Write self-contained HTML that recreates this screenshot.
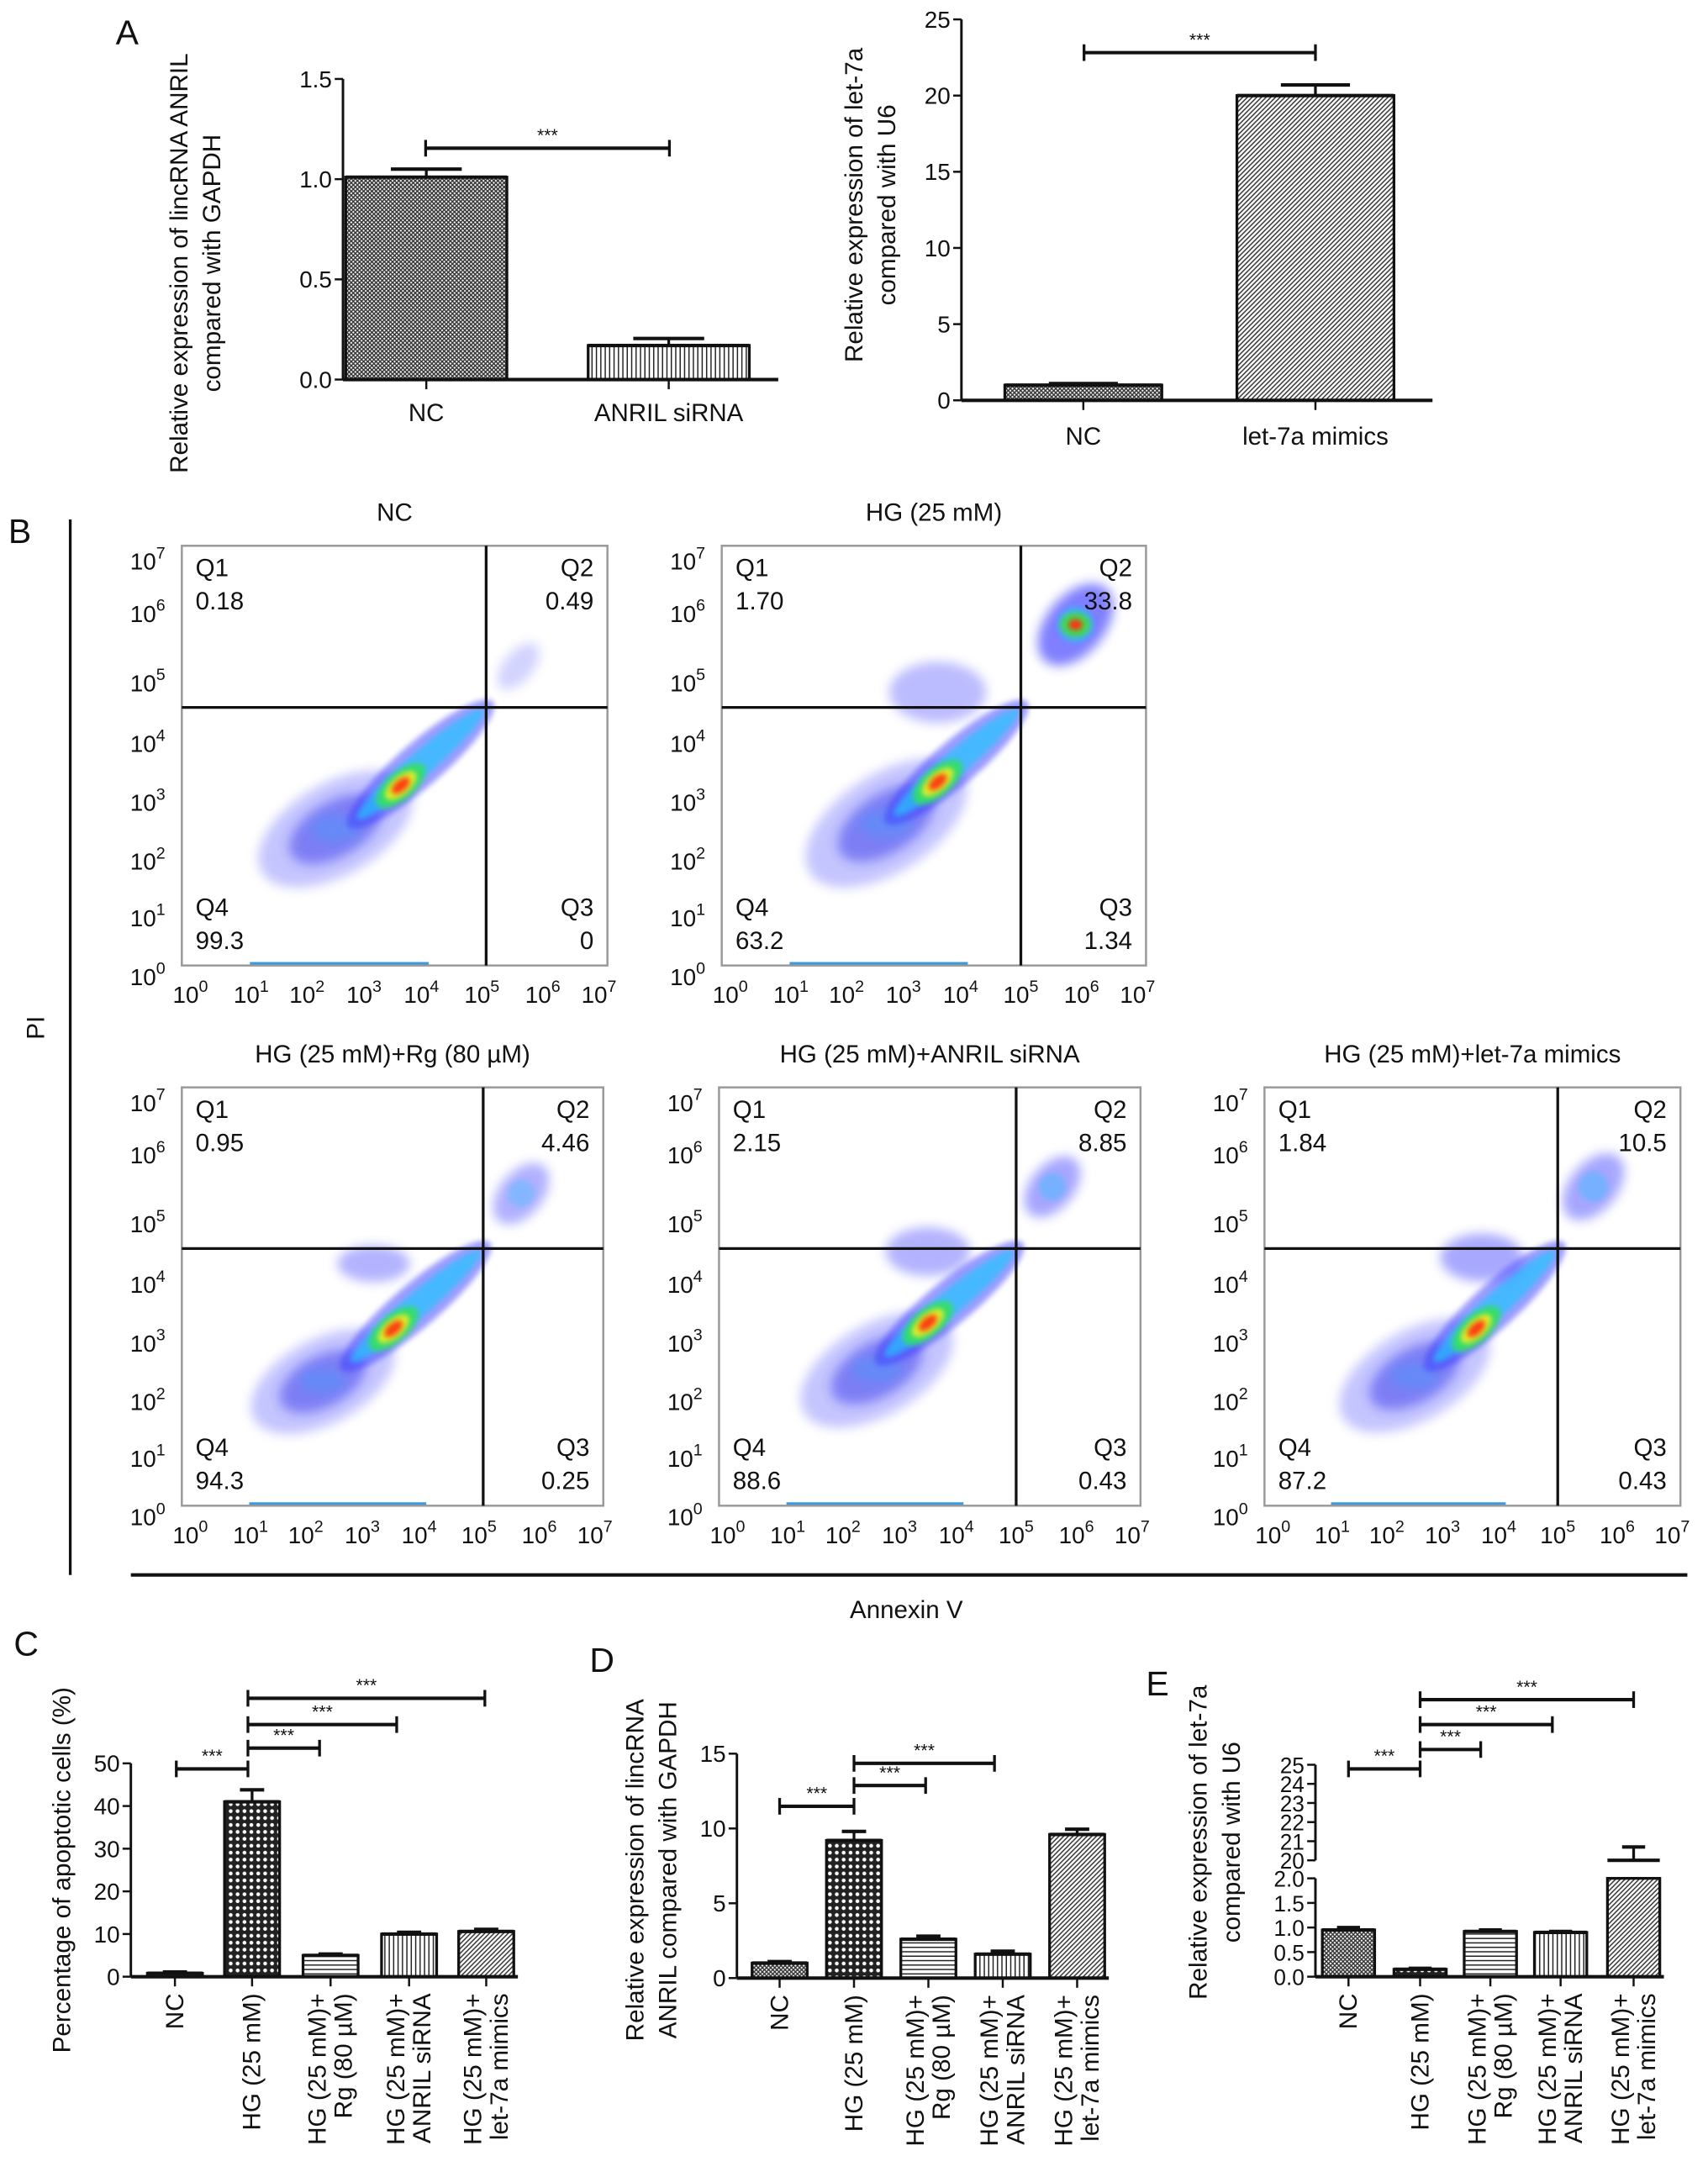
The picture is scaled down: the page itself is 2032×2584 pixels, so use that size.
<!DOCTYPE html>
<html><head><meta charset="utf-8"><style>
html,body{margin:0;padding:0;background:#fff}
svg{display:block}
text{font-family:"Liberation Sans",Arial,sans-serif;fill:#111}
</style></head><body>
<svg id="fig" xmlns="http://www.w3.org/2000/svg" width="2032" height="2584" viewBox="0 0 1240 1568" preserveAspectRatio="none">
<defs>
<pattern id="pCross" width="3" height="3" patternUnits="userSpaceOnUse"><rect width="3" height="3" fill="#fff"/><path d="M0,0L3,3M3,0L0,3" stroke="#333" stroke-width="0.9"/></pattern>
<pattern id="pCheck" width="5" height="5" patternUnits="userSpaceOnUse"><rect width="5" height="5" fill="#222"/><circle cx="2.5" cy="2.5" r="1.4" fill="#fff"/></pattern>
<pattern id="pVert" width="3.2" height="4" patternUnits="userSpaceOnUse"><rect width="3.2" height="4" fill="#fff"/><path d="M1,0V4" stroke="#222" stroke-width="0.9"/></pattern>
<pattern id="pHorz" width="4" height="3.2" patternUnits="userSpaceOnUse"><rect width="4" height="3.2" fill="#fff"/><path d="M0,1H4" stroke="#222" stroke-width="0.9"/></pattern>
<pattern id="pDiag" width="3.4" height="3.4" patternUnits="userSpaceOnUse"><rect width="3.4" height="3.4" fill="#fff"/><path d="M0,3.4L3.4,0M-1,1L1,-1M2.4,4.4L4.4,2.4" stroke="#333" stroke-width="0.9"/></pattern>
<filter id="blur4" x="-50%" y="-50%" width="200%" height="200%"><feGaussianBlur stdDeviation="4"/></filter>
<filter id="blur2" x="-50%" y="-50%" width="200%" height="200%"><feGaussianBlur stdDeviation="2"/></filter>
</defs>
<g id="root"></g>
</svg>
<script>
// ---------- Panel A data ----------
const aLeftCats = ['NC','ANRIL siRNA'];
const aLeftVals = [1.01, 0.17];
const aLeftErr = [0.04, 0.035];
const aLeftTicks = [0.0, 0.5, 1.0, 1.5];
const aRightCats = ['NC','let-7a mimics'];
const aRightVals = [1.0, 20.0];
const aRightErr = [0.1, 0.7];
const aRightTicks = [0,5,10,15,20,25];
// ---------- Panel C/D/E data ----------
const groupCats = [['NC'],['HG (25 mM)'],['HG (25 mM)+','Rg (80 µM)'],['HG (25 mM)+','ANRIL siRNA'],['HG (25 mM)+','let-7a mimics']];
const cVals = [0.8, 41.0, 5.0, 10.0, 10.6];
const cErr = [0.3, 2.8, 0.3, 0.4, 0.5];
const cTicks = [0,10,20,30,40,50];
const dVals = [1.0, 9.2, 2.6, 1.6, 9.6];
const dErr = [0.1, 0.6, 0.2, 0.2, 0.35];
const dTicks = [0,5,10,15];
const eVals = [0.95, 0.15, 0.92, 0.9, 20.0];
const eErr = [0.05, 0.02, 0.03, 0.02, 0.7];
const eTicksLow = [0.0,0.5,1.0,1.5,2.0];
const eTicksHigh = [20,21,22,23,24,25];
// ---------- Flow data ----------
const flowTitles = ['NC','HG (25 mM)','HG (25 mM)+Rg (80 µM)','HG (25 mM)+ANRIL siRNA','HG (25 mM)+let-7a mimics'];
const flowQ1 = ['0.18','1.70','0.95','2.15','1.84'];
const flowQ2 = ['0.49','33.8','4.46','8.85','10.5'];
const flowQ3 = ['0','1.34','0.25','0.43','0.43'];
const flowQ4 = ['99.3','63.2','94.3','88.6','87.2'];
const flowGateX = [5.07, 5.0, 5.07, 5.0, 5.0];
const flowGateY = [4.55, 4.55, 4.55, 4.55, 4.55];
// clusters: [logX, logY, spreadX, spreadY, angleDeg]
const flowMain = [[2.5,2.5,1.4,0.75,-30],[2.7,2.6,1.5,0.8,-33],[2.3,2.3,1.3,0.7,-28],[2.6,2.5,1.4,0.75,-30],[2.5,2.4,1.4,0.75,-30]];
const flowCore = [[3.64,3.24],[3.6,3.3],[3.55,3.2],[3.5,3.3],[3.6,3.2]];
const flowQ2Cluster = [[5.6,5.2,0.35,0.3,0.15],[5.9,5.8,0.6,0.6,1.0],[5.7,5.4,0.45,0.45,0.5],[5.6,5.5,0.45,0.45,0.6],[5.6,5.5,0.5,0.5,0.6]];
const flowQ1Cluster = [[0,0,0,0,0],[3.6,4.8,0.8,0.5,0.35],[3.2,4.3,0.6,0.3,0.4],[3.5,4.5,0.7,0.4,0.4],[3.7,4.4,0.7,0.4,0.45]];
const flowBoxes = [[132,394,441,697],[524,394,832,697],[132,785,438,1087],[522,785,828,1087],[918,785,1220,1087]];
const decadeX = [0.02,0.163,0.294,0.428,0.563,0.705,0.848,0.98];
// fraction from top for 10^0..10^7
const decadeY = [1.02,0.88,0.745,0.605,0.465,0.32,0.155,0.03];

const NS='http://www.w3.org/2000/svg';
const root=document.getElementById('root');
function el(tag,attrs,parent,txt){const e=document.createElementNS(NS,tag);for(const k in attrs)e.setAttribute(k,attrs[k]);if(txt!==undefined)e.textContent=txt;(parent||root).appendChild(e);return e;}
function grp(name,parent){const g=el('g',{},parent);return g;}
function txt(s,x,y,size,parent,name,extra){const t=el('text',Object.assign({x:x,y:y,'font-size':size},extra||{}),parent,s);return t;}
function line(x1,y1,x2,y2,w,parent,name,color){const l=el('line',{x1,y1,x2,y2,stroke:color||'#111','stroke-width':w},parent);if(name){}return l;}

[['A',84,32],['B',6,392],['C',10,1195],['D',428,1207],['E',832,1224]].forEach(p=>{txt(p[0],p[1],p[2],25,root,'panel-label-'+p[0].toLowerCase());});

function sigBar(g,x1,x2,y){line(x1,y,x2,y,2.5,g,'significance-bar');line(x1,y-6,x1,y+6,2,g,'significance-cap');line(x2,y-6,x2,y+6,2,g,'significance-cap');txt('***',(x1+x2)/2,y-5,13,g,'significance-stars',{'text-anchor':'middle'});}

function barChart(cfg){
  const g=grp(cfg.name);
  const ys=cfg.ys;
  cfg.vals.forEach((v,i)=>{
    const cx=cfg.cx[i], w=cfg.bw;
    const top=ys(Math.min(v,cfg.barCap||v));
    const r=el('rect',{x:cx-w/2,y:top,width:w,height:cfg.y0-top,fill:'url(#'+cfg.pats[i]+')',stroke:'#111','stroke-width':2},g);
    
    const vt=ys(v), et=ys(v+cfg.err[i]);
    line(cx-w/2,vt,cx+w/2,vt,2.5,g,'bar-top');
    line(cx,vt,cx,et,2,g,'error-bar');line(cx-w*0.22,et,cx+w*0.22,et,2.5,g,'error-cap');
    line(cx,cfg.y0,cx,cfg.y0+7,1.5,g,'x-tick');
  });
  line(cfg.ax,cfg.y0,cfg.xEnd,cfg.y0,2.5,g,'x-axis');
  cfg.axes.forEach(a=>{
    line(cfg.ax,ys(a.ticks[0]),cfg.ax,ys(a.ticks[a.ticks.length-1]),1.8,g,'y-axis');
    a.ticks.forEach(t=>{const y=ys(t);line(cfg.ax-6,y,cfg.ax,y,1.5,g,'y-tick');txt(a.fmt(t),cfg.ax-8,y+6,cfg.tickSize||17,g,'y-tick-label',{'text-anchor':'end'});});
  });
  const yt=el('text',{transform:'translate('+cfg.titleX+','+cfg.titleY+') rotate(-90)','font-size':18,'text-anchor':'middle'},g);
  
  cfg.title.forEach((s,k)=>{el('tspan',{x:0,dy:k?24:0},yt,s);});
  cfg.cats.forEach((c,i)=>{
    if(cfg.rotated){
      const t=el('text',{transform:'translate('+cfg.cx[i]+','+(cfg.y0+12)+') rotate(-90)','font-size':18,'text-anchor':'end'},g);
      
      const n=c.length;c.forEach((s,k)=>{el('tspan',{x:0,y:(k-(n-1)/2)*19+6},t,s);});
    } else txt(c[0],cfg.cx[i],cfg.labelY,18,g,'x-tick-label',{'text-anchor':'middle'});
  });
  cfg.sigs.forEach(s=>sigBar(g,s[0],s[1],s[2]));
}

barChart({name:'chart-a-anril',vals:aLeftVals,err:aLeftErr,cats:aLeftCats.map(c=>[c]),cx:[309.5,485.5],bw:117,pats:['pCross','pVert'],
  ys:v=>274-v/1.5*217,y0:274,ax:249,xEnd:565,axes:[{ticks:aLeftTicks,fmt:t=>t.toFixed(1)}],labelY:304,
  title:['Relative expression of lincRNA ANRIL','compared with GAPDH'],titleX:136,titleY:190,sigs:[[309,486,107]]});
barChart({name:'chart-a-let7a',vals:aRightVals,err:aRightErr,cats:aRightCats.map(c=>[c]),cx:[786.5,955],bw:114,pats:['pCross','pDiag'],
  ys:v=>289-v/25*275,y0:289,ax:698,xEnd:1040,axes:[{ticks:aRightTicks,fmt:t=>String(t)}],labelY:321,
  title:['Relative expression of let-7a','compared with U6'],titleX:626,titleY:148,sigs:[[787,955,38]]});
const pats5=['pCross','pCheck','pHorz','pVert','pDiag'];
barChart({name:'chart-c-apoptosis',vals:cVals,err:cErr,cats:groupCats,cx:[127,183,240,297,353],bw:40,pats:pats5,rotated:true,
  ys:v=>1427-v/50*154,y0:1427,ax:95,xEnd:376,axes:[{ticks:cTicks,fmt:t=>String(t)}],
  title:['Percentage of apoptotic cells (%)'],titleX:51,titleY:1350,sigs:[[128,180,1277],[180,232,1262],[180,288,1245],[180,352,1226]]});
barChart({name:'chart-d-anril',vals:dVals,err:dErr,cats:groupCats,cx:[566,620,674,728,782],bw:40,pats:pats5,rotated:true,
  ys:v=>1428-v/15*162,y0:1428,ax:535,xEnd:805,axes:[{ticks:dTicks,fmt:t=>String(t)}],
  title:['Relative expression of lincRNA','ANRIL compared with GAPDH'],titleX:467,titleY:1350,sigs:[[566,620,1304],[620,672,1289],[620,722,1273]]});
barChart({name:'chart-e-let7a',vals:eVals,err:eErr,cats:groupCats,cx:[979,1031,1082,1133,1186],bw:38,pats:pats5,rotated:true,barCap:2.0,tickSize:16,
  ys:v=>v<=2.0?1427-v/2*71:1343-(v-20)/5*69,y0:1427,ax:955,xEnd:1208,
  axes:[{ticks:eTicksLow,fmt:t=>t.toFixed(1)},{ticks:eTicksHigh,fmt:t=>String(t)}],
  title:['Relative expression of let-7a','compared with U6'],titleX:876,titleY:1330,sigs:[[979,1031,1277],[1031,1075,1263],[1031,1127,1245],[1031,1186,1227]]});

// ---------- Flow panel ----------
const fg=grp('flow-cytometry-panel');
line(51,375,51,1137,2,fg,'panel-b-left-rule');
line(95,1137,1225,1137,2.5,fg,'panel-b-bottom-rule');
txt('PI',0,0,18,fg,'y-axis-title',{transform:'translate(32,742) rotate(-90)','text-anchor':'middle'});
txt('Annexin V',658,1168,18,fg,'x-axis-title',{'text-anchor':'middle'});
const dens=[['#3b3bff',1.0,0.55],['#22c4ff',0.6,0.6],['#33e060',0.38,0.8],['#f4f020',0.22,0.9],['#ff2a10',0.12,1]];
flowTitles.forEach((title,i)=>{
  const b=flowBoxes[i], L=b[0],T=b[1],R=b[2],B=b[3],W=R-L,H=B-T;
  const fx=v=>{const k=Math.max(0,Math.min(6,Math.floor(v)));return L+W*(decadeX[k]+(decadeX[k+1]-decadeX[k])*(v-k));};
  const fyy=v=>{const k=Math.max(0,Math.min(6,Math.floor(v)));return T+H*(decadeY[k]+(decadeY[k+1]-decadeY[k])*(v-k));};
  const g=grp('flow-plot-'+i,fg);
  txt(title,(L+R)/2,T-18,18,g,'flow-plot-title',{'text-anchor':'middle'});
  const clip=el('clipPath',{id:'clip'+i},g);el('rect',{x:L,y:T,width:W,height:H},clip);
  const d=el('g',{'clip-path':'url(#clip'+i+')'},g);
  const pxd=W/7;
  const m=flowMain[i], c=flowCore[i];
  const mcx=fx(m[0]), mcy=fyy(m[1]);
  el('ellipse',{cx:mcx,cy:mcy,rx:m[2]*pxd,ry:m[3]*pxd,fill:'#5a5aff',opacity:0.35,filter:'url(#blur4)',transform:'rotate('+m[4]+' '+mcx+' '+mcy+')'},d);
  el('ellipse',{cx:mcx,cy:mcy,rx:m[2]*pxd*0.6,ry:m[3]*pxd*0.6,fill:'#2a2ae8',opacity:0.45,filter:'url(#blur4)',transform:'rotate('+m[4]+' '+mcx+' '+mcy+')'},d);
  el('ellipse',{cx:mcx,cy:mcy,rx:m[2]*pxd*0.3,ry:m[3]*pxd*0.3,fill:'#3aa0ff',opacity:0.35,filter:'url(#blur4)'},d);
  const gx=flowGateX[i], gy=flowGateY[i];
  const x1=fx(c[0]-0.8),y1=fyy(c[1]-0.6),x2=fx(gx),y2=fyy(gy);
  const ang=Math.atan2(y2-y1,x2-x1)*180/Math.PI;
  const len=Math.hypot(y2-y1,x2-x1);
  const mx=(x1+x2)/2, my=(y1+y2)/2;
  el('ellipse',{cx:mx,cy:my,rx:len*0.55,ry:16,fill:'#3b3bff',opacity:0.5,filter:'url(#blur2)',transform:'rotate('+ang+' '+mx+' '+my+')'},d);
  el('ellipse',{cx:mx,cy:my,rx:len*0.48,ry:9,fill:'#22c4ff',opacity:0.7,filter:'url(#blur2)',transform:'rotate('+ang+' '+mx+' '+my+')'},d);
  const cx0=fx(c[0]), cy0=fyy(c[1]);
  [['#33e060',22,10],['#f4f020',14,6.5],['#ff2a10',8,4]].forEach(s=>{el('ellipse',{cx:cx0,cy:cy0,rx:s[1],ry:s[2],fill:s[0],opacity:0.9,filter:'url(#blur2)',transform:'rotate('+ang+' '+cx0+' '+cy0+')'},d);});
  const q=flowQ2Cluster[i];
  const qx=fx(q[0]), qy=fyy(q[1]);
  el('ellipse',{cx:qx,cy:qy,rx:q[2]*pxd*1.3,ry:q[3]*pxd*0.8,fill:'#3b3bff',opacity:0.5*q[4]+0.15,filter:'url(#blur4)',transform:'rotate(-50 '+qx+' '+qy+')'},d);
  if(q[4]>0.4)el('ellipse',{cx:qx,cy:qy,rx:q[2]*pxd*0.5,ry:q[3]*pxd*0.5,fill:'#22c4ff',opacity:0.6*q[4],filter:'url(#blur2)'},d);
  if(q[4]>0.8){el('ellipse',{cx:qx,cy:qy,rx:11,ry:9,fill:'#40e040',opacity:0.9,filter:'url(#blur2)'},d);el('ellipse',{cx:qx,cy:qy,rx:5,ry:4,fill:'#ff3010',filter:'url(#blur2)'},d);}
  const q1=flowQ1Cluster[i];
  if(q1[4]>0)el('ellipse',{cx:fx(q1[0]),cy:fyy(q1[1]),rx:q1[2]*pxd,ry:q1[3]*pxd,fill:'#4040ff',opacity:q1[4],filter:'url(#blur4)'},d);
  line(L+W*0.16,B-1.5,L+W*0.58,B-1.5,2,d,'axis-events','#3a9adf');
  const box=el('rect',{x:L,y:T,width:W,height:H,fill:'none',stroke:'#999','stroke-width':1.5},g);
  
  line(fx(gx),T,fx(gx),B,2,g,'quadrant-gate-vertical');
  line(L,fyy(gy),R,fyy(gy),2,g,'quadrant-gate-horizontal');
  txt('Q1',L+10,T+22,18,g,'q1-label');txt(flowQ1[i],L+10,T+46,18,g,'q1-value');
  txt('Q2',R-10,T+22,18,g,'q2-label',{'text-anchor':'end'});txt(flowQ2[i],R-10,T+46,18,g,'q2-value',{'text-anchor':'end'});
  txt('Q4',L+10,B-36,18,g,'q4-label');txt(flowQ4[i],L+10,B-12,18,g,'q4-value');
  txt('Q3',R-10,B-36,18,g,'q3-label',{'text-anchor':'end'});txt(flowQ3[i],R-10,B-12,18,g,'q3-value',{'text-anchor':'end'});
  for(let k=0;k<8;k++){
    const tx=L+W*decadeX[k];
    const t=txt('10',tx,B+27,17,g,'x-tick-label',{'text-anchor':'middle'});el('tspan',{dy:-8,'font-size':12},t,String(k));
    const ty=T+H*decadeY[k];
    const t2=txt('10',L-12,ty+8,17,g,'y-tick-label',{'text-anchor':'end'});el('tspan',{dy:-8,'font-size':12},t2,String(k));
  }
});
</script>
</body></html>
